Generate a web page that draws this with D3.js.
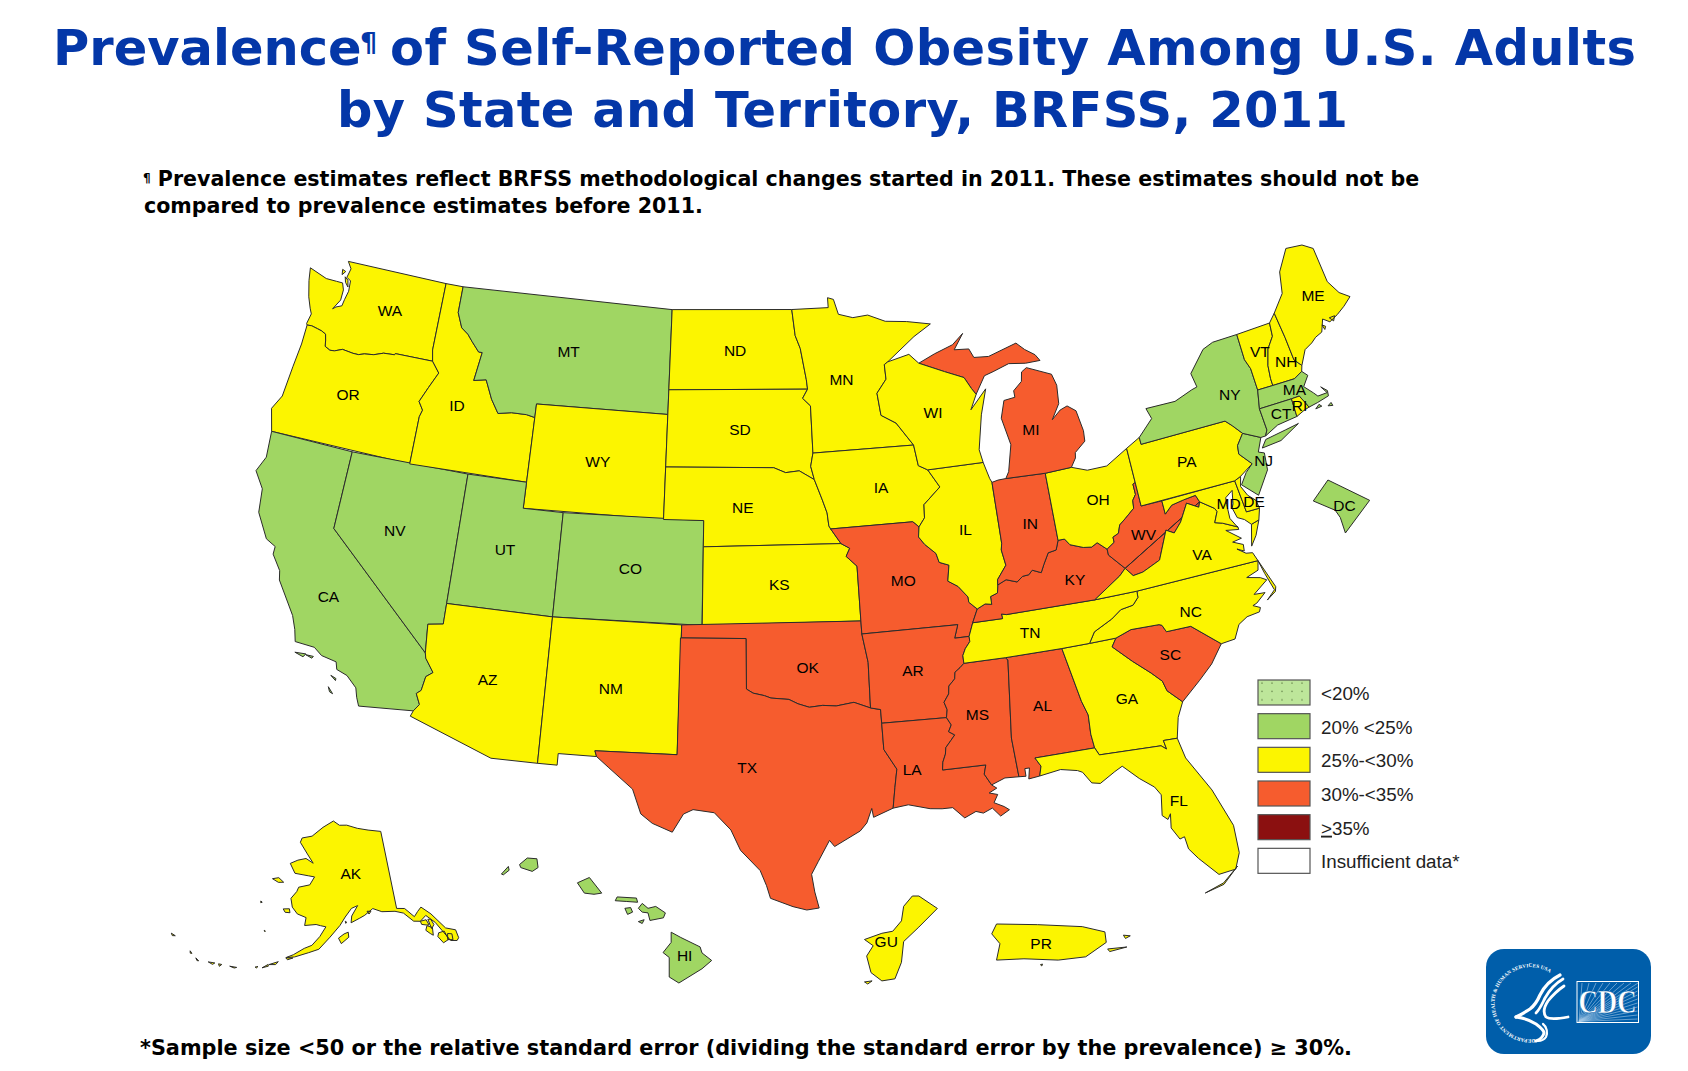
<!DOCTYPE html>
<html>
<head>
<meta charset="utf-8">
<script src="https://cdn.jsdelivr.net/npm/d3@7"></script>
<style>
  html, body { margin: 0; padding: 0; background: #fff; }
  svg { display: block; }
</style>
</head>
<body>
<div id="chart"></div>
<script>
const R = (a) => a.slice().reverse();

// obesity class for each state
const greenStates = ['MT', 'CA', 'NV', 'UT', 'CO', 'NY', 'MA', 'CT', 'NJ', 'DC', 'HI'];
const yellowStates = ['WA', 'OR', 'ID', 'WY', 'ND', 'SD', 'NE', 'KS', 'MN', 'IA', 'WI', 'IL', 'OH', 'PA', 'VA', 'NC', 'TN',
    'GA', 'FL', 'AZ', 'NM', 'VT', 'NH', 'ME', 'RI', 'MD', 'DE', 'AK', 'GU', 'PR'];
const orangeStates = ['TX', 'OK', 'MO', 'AR', 'LA', 'MS', 'AL', 'SC', 'KY', 'WV', 'IN', 'MI'];

const legendLabels = ['<20%', '20% <25%', '25%-<30%', '30%-<35%', '35%', 'Insufficient data*'];
const legendColors = ['url(#dots)', '#a0d663', '#fcf500', '#f65c2e', '#8b1010', '#ffffff'];

// shared borders, lon/lat
const columbia = [[-124,46.25],[-123.75,46.27],[-123.4,46.22],[-123.15,46.18],[-122.9,46.1],[-122.8,45.85],[-122.75,45.65],[-122.45,45.55],[-122.2,45.57],[-121.8,45.7],[-121.2,45.65],[-120.9,45.65],[-120.6,45.73],[-120.1,45.78],[-119.6,45.92],[-119,45.95],[-118.98,46],[-116.92,46]];
const snake = [[-116.92,46],[-116.47,45.6],[-116.85,45],[-117.2,44.4],[-116.93,44.1],[-117.03,43.83],[-117.03,42]];
const colorado = [[-114.63,35],[-114.57,34.8],[-114.14,34.3],[-114.43,34.1],[-114.53,33.55],[-114.72,33.4],[-114.5,33],[-114.72,32.72]];
const bitterroot = [[-116.05,49],[-116.05,48],[-115.7,47.45],[-115.3,47.25],[-115,47],[-114.55,46.65],[-114.35,46.65],[-114.55,45.55],[-113.9,45.65],[-113.8,45.5],[-113.45,44.95],[-113,44.45],[-112.3,44.55],[-111.5,44.55],[-111.05,44.48]];
const redNorth = [[-97.23,49],[-97.1,48],[-96.85,47.5],[-96.6,46.3],[-96.56,45.94]];
const sdMn = [[-96.56,45.94],[-96.85,45.6],[-96.45,45.3],[-96.45,43.5]];
const bigSioux = [[-96.45,43.5],[-96.6,43],[-96.45,42.49]];
const sdNe = [[-98.5,43],[-97.9,42.8],[-97.2,42.85],[-96.45,42.49]];
const iaNe = [[-96.45,42.49],[-96.1,41.7],[-95.9,41.2],[-95.85,40.7],[-95.77,40.58]];
const moNe = [[-95.77,40.58],[-95.31,40]];
const moKs = [[-95.31,40],[-94.9,39.8],[-95.1,39.5],[-94.61,39.1]];
const stCroix = [[-92.29,46.1],[-92.85,45.6],[-92.75,44.75],[-92,44.4],[-91.22,43.5]];
const missWi = [[-91.22,43.5],[-91.1,42.7],[-90.65,42.5]];
const missIa = [[-90.65,42.5],[-90.15,41.8],[-91.05,41.2],[-91.1,40.7],[-91.42,40.38]];
const missMo = [[-91.42,40.38],[-91.5,40],[-91.25,39.7],[-90.75,39.3],[-90.65,38.95],[-90.2,38.8],[-90.35,38.2],[-89.9,37.95],[-89.5,37.5],[-89.5,37.3],[-89.15,37]];
const missKy = [[-89.15,37],[-89.45,36.5]];
const missTn = [[-89.45,36.5],[-89.7,36]];
const missAr = [[-89.7,36],[-89.7,35.8],[-89.95,35.55],[-90.1,35.3],[-90.1,35]];
const missMs = [[-90.1,35],[-90.3,34.85],[-90.55,34.7],[-90.6,34.45],[-90.9,34.2],[-90.95,33.9],[-91.2,33.6],[-91.1,33.3],[-91.17,33]];
const missLa = [[-91.17,33],[-91,32.7],[-91.15,32.45],[-90.9,32.3],[-91.1,32.1],[-91.35,31.85],[-91.4,31.6],[-91.55,31.3],[-91.6,31]];
const redRiver = [[-100,34.56],[-99.7,34.4],[-99.2,34.3],[-98.9,34.2],[-98.1,34.13],[-97.7,33.95],[-97.2,33.8],[-96.6,33.85],[-96,33.8],[-95.2,33.9],[-94.48,33.64]];
const sabine = [[-94.04,32],[-93.55,31.2],[-93.7,30.5],[-93.85,29.7]];
const ohioIl = [[-89.15,37],[-88.75,37.15],[-88.45,37.1],[-88.45,37.4],[-88.1,37.5],[-88.03,37.8]];
const ohioIn = [[-88.03,37.8],[-87.6,37.95],[-87.1,37.8],[-86.8,37.98],[-86.5,38],[-86.3,38.15],[-85.9,38],[-85.7,38.3],[-85.4,38.7],[-85,38.75],[-84.82,39.1]];
const ohioKy = [[-84.82,39.1],[-84.5,39.1],[-84.3,38.85],[-83.7,38.65],[-83.3,38.6],[-83,38.72],[-82.6,38.4]];
const ohioWv = [[-82.6,38.4],[-82.2,38.6],[-82.2,38.8],[-81.9,38.9],[-81.75,39.2],[-81.4,39.4],[-80.9,39.7],[-80.85,40],[-80.65,40.2],[-80.65,40.6],[-80.52,40.64]];
const wabash = [[-87.53,39.35],[-87.6,39.1],[-87.5,38.5],[-88,38],[-88.03,37.8]];
const kyWv = [[-82.6,38.4],[-82.6,38.17],[-81.97,37.54]];
const kyVa = [[-81.97,37.54],[-82.3,37.3],[-83,36.95],[-83.68,36.6]];
const kyTn = [[-83.68,36.6],[-87.85,36.63],[-88.07,36.68],[-88.05,36.5],[-89.45,36.5]];
const vaTn = [[-81.68,36.59],[-83.68,36.6]];
const tnNc = [[-81.68,36.59],[-81.7,36.35],[-82,36.1],[-82.6,36.03],[-83.1,35.75],[-84,35.4],[-84.32,35]];
const wvVa = [[-81.97,37.54],[-81.68,37.2],[-81.2,37.25],[-80.3,37.55],[-79.65,38.6],[-79.3,38.42],[-78.87,38.76],[-78.35,39.4],[-77.83,39.13],[-77.72,39.32]];
const wvMd = [[-77.72,39.32],[-77.83,39.6],[-78.45,39.55],[-79.07,39.47],[-79.48,39.2],[-79.48,39.72]];
const potomac = [[-77.72,39.32],[-77.12,38.93],[-77.04,38.79],[-77.3,38.4],[-76.95,38.3],[-76.3,38]];
const savannah = [[-83.1,35],[-83.35,34.7],[-82.6,34],[-81.9,33.4],[-81.5,33],[-81.4,32.6],[-80.85,32.05]];
const ncSc = [[-78.55,33.86],[-79.67,34.8],[-80.8,34.82],[-80.93,35.1],[-81.05,35.15],[-82.35,35.2],[-83.1,35]];
const delaware = [[-74.7,41.36],[-75.13,40.97],[-75.2,40.65],[-74.72,40.15],[-75.45,39.82]];
const vtNh = [[-71.5,45.01],[-71.6,44.5],[-72.05,44.1],[-72.35,43.5],[-72.45,43],[-72.46,42.73]];
const nyVt = [[-73.35,45],[-73.4,44],[-73.25,43.6],[-73.27,42.75]];
const nhMe = [[-71.08,45.3],[-71,44.3],[-70.98,43.38],[-70.7,43.08]];

// each state is a list of rings, lon/lat
const stateRings = {
    WA: [[[-124.73,48.38],[-124.6,47.9],[-124.35,47.3],[-124.1,46.9],[-123.95,46.7],[-124.05,46.3],...columbia,[-117.04,46.42],[-117.04,49],[-122.76,49],[-122.5,48.75],[-122.6,48.4],[-122.35,48.3],[-122.3,47.9],[-122.4,47.55],[-122.45,47.3],[-122.75,47.2],[-122.9,47.1],[-122.6,47.5],[-122.6,47.9],[-122.75,48.15],[-123.1,48.15],[-123.7,48.15]],
        [[-122.75,48.6],[-122.95,48.65],[-122.9,48.45]],[[-122.7,48.4],[-122.5,48.3],[-122.4,48.05],[-122.6,48.2]]],
    OR: [[...R(columbia),[-124,45.5],[-124.1,44.6],[-124.2,43.4],[-124.55,42.84],[-124.21,42],...R(snake)].reverse()],
    CA: [[[-124.21,42],[-120,42],[-120,39],...colorado,[-117.12,32.53],[-117.28,32.85],[-117.4,33.2],[-117.9,33.6],[-118.4,33.75],[-118.5,34.03],[-119.2,34.15],[-119.6,34.4],[-120.5,34.45],[-120.65,34.9],[-120.9,35.4],[-121.9,36.6],[-122,36.95],[-122.5,37.5],[-122.5,37.8],[-123,38],[-123.7,38.9],[-123.85,39.8],[-124.4,40.4],[-124.1,41]],
        [[-120.4,34.05],[-119.9,34.08],[-120,33.95]],[[-119.9,34.05],[-119.55,34.05],[-119.6,33.97]],[[-118.6,33.48],[-118.35,33.4],[-118.35,33.32]],[[-118.6,33.03],[-118.35,32.8],[-118.5,32.85]]],
    NV: [[[-120,42],[-114.04,42],[-114.04,36.2],[-114.74,36.1],[-114.63,35],[-120,39]]],
    ID: [[[-117.04,49],...bitterroot,[-111.05,42],[-117.03,42],...R(snake),[-117.04,46.42]]],
    MT: [[...bitterroot,[-111.05,45],[-104.05,45],[-104.05,49]]],
    WY: [[[-111.05,45],[-104.05,45],[-104.05,41],[-111.05,41]]],
    UT: [[[-114.04,42],[-111.05,42],[-111.05,41],[-109.05,41],[-109.05,37],[-114.04,37]]],
    CO: [[[-109.05,41],[-102.05,41],[-102.05,37],[-109.05,37]]],
    AZ: [[[-114.04,37],[-109.05,37],[-109.05,31.33],[-111.07,31.33],[-114.81,32.5],...R(colorado),[-114.74,36.1],[-114.04,36.2]]],
    NM: [[[-109.05,37],[-103,37],[-103.04,32],[-106.62,32],[-106.53,31.78],[-108.2,31.78],[-108.2,31.33],[-109.05,31.33]]],
    ND: [[[-104.05,49],...redNorth,[-104.05,45.94]]],
    SD: [[[-104.05,45.94],...sdMn,...bigSioux,...R(sdNe),[-104.05,43]]],
    NE: [[[-104.05,43],...sdNe,...iaNe,...moNe,[-102.05,40],[-102.05,41],[-104.05,41]]],
    KS: [[[-102.05,40],...moKs,[-94.62,37],[-102.04,37]]],
    OK: [[[-103,37],[-94.62,37],[-94.62,36.5],[-94.43,35.4],...R(redRiver),[-100,36.5],[-103,36.5]]],
    TX: [[[-103.04,36.5],[-100,36.5],...redRiver,[-94.04,33.55],[-94.04,33.02],...sabine,[-94.7,29.4],[-94.75,29.75],[-95,29.2],[-95.3,28.9],[-96.4,28.35],[-96.6,28.6],[-97.1,27.8],[-97.4,27.3],[-97.3,26.6],[-97.15,25.96],[-97.65,25.9],[-98.2,26.05],[-99.1,26.4],[-99.25,26.9],[-99.5,27.5],[-100.3,28.3],[-100.7,29.1],[-101.4,29.77],[-102.3,29.88],[-102.7,29.7],[-103.15,28.98],[-104,29.3],[-104.5,29.65],[-104.9,30.6],[-106,31.4],[-106.53,31.78],[-106.62,32],[-103.04,32]]],
    MN: [[...redNorth,...sdMn,[-91.22,43.5],...R(stCroix),[-92.3,46.66],[-92.1,46.75],[-90.5,47.6],[-89.5,48],[-90.8,48.2],[-92,48.3],[-92.95,48.6],[-93.8,48.55],[-94.6,48.72],[-94.82,49.3],[-95.15,49.38],[-95.15,49]]],
    IA: [[[-96.45,43.5],[-91.22,43.5],...missWi,...missIa,[-91.7,40.6],...R(iaNe),...R(bigSioux)]],
    MO: [[[-95.77,40.58],[-91.7,40.6],...missMo,...missKy,...missTn,[-90.37,36],[-90.15,36.5],[-94.62,36.5],[-94.62,37],...R(moKs),...R(moNe)]],
    AR: [[[-94.62,36.5],[-90.15,36.5],[-90.37,36],...missAr,...missMs,[-94.04,33.02],[-94.04,33.55],[-94.48,33.64],[-94.43,35.4]]],
    LA: [[[-94.04,33.02],...missLa,[-89.73,31],[-89.85,30.65],[-89.6,30.2],[-89.4,30.05],[-89.75,29.9],[-89.4,29.8],[-89.6,29.5],[-89.2,29.3],[-89,29.15],[-89.4,28.95],[-89.7,29.3],[-90.1,29.15],[-90.4,29.25],[-90.9,29.05],[-91.35,29.5],[-91.8,29.5],[-92.3,29.55],[-93.2,29.78],...R(sabine)]],
    MS: [[[-90.1,35],[-88.2,35],[-88.1,34.9],[-88.47,31.9],[-88.4,30.37],[-89,30.4],[-89.6,30.2],[-89.85,30.65],[-89.73,31],...R(missLa),...R(missMs)]],
    AL: [[[-88.2,35],[-85.6,35],[-85.18,32.87],[-85,32.3],[-85.05,31.55],[-85,31],[-87.6,31],[-87.4,30.65],[-87.52,30.28],[-88,30.23],[-87.9,30.65],[-88.1,30.65],[-88.1,30.35],[-88.4,30.37],[-88.47,31.9],[-88.1,34.9]]],
    GA: [[[-85.6,35],[-84.32,35],...savannah,[-81.2,31.5],[-81.45,30.72],[-82.05,30.75],[-82,30.4],[-82.2,30.57],[-84.86,30.7],[-85,31],[-85.05,31.55],[-85,32.3],[-85.18,32.87]]],
    SC: [[...savannah,[-79.9,32.7],[-79.2,33.2],...ncSc.slice(0,-1)]],
    NC: [[[-84.32,35],...R(tnNc),[-75.87,36.55],[-76,36.2],[-76.6,36.05],[-76,35.9],[-75.75,35.75],[-76.5,35.35],[-76,35.3],[-76.5,35],[-76.7,34.95],[-76.4,34.8],[-76.5,34.65],[-77.1,34.6],[-77.55,34.4],[-77.9,33.9],...ncSc],
        [[-75.87,36.55],[-75.45,35.4],[-75.53,35.23],[-76,35],[-75.55,35.3],[-75.75,36]]],
    TN: [[...kyTn,...missTn,...missAr,[-88.2,35],[-85.6,35],[-84.32,35],...R(tnNc),...vaTn]],
    KY: [[...ohioIl,...ohioIn,...ohioKy,...kyWv,...kyVa,...kyTn,...R(missKy)]],
    IL: [[[-90.65,42.5],[-87.8,42.5],[-87.6,41.85],[-87.52,41.7],...wabash,...R(ohioIl),...R(missMo),...R(missIa)]],
    IN: [[[-87.52,41.7],[-87.2,41.75],[-86.8,41.76],[-84.8,41.7],[-84.82,39.1],...R(ohioIn),...R(wabash)]],
    OH: [[[-84.8,41.7],[-83.45,41.73],[-82.7,41.5],[-81.7,41.5],[-80.52,41.98],...R(ohioWv),...R(ohioKy)]],
    MI: [[[-86.8,41.76],[-84.8,41.7],[-83.45,41.73],[-83.15,42.05],[-83.1,42.25],[-82.5,42.6],[-82.45,43],[-82.6,43.8],[-83,44.05],[-83.4,43.95],[-83.9,43.65],[-83.4,44.2],[-83.3,44.9],[-83.45,45.35],[-84.7,45.78],[-85,45.65],[-85.1,45.3],[-85.6,45],[-85.6,44.75],[-86.2,44.7],[-86.5,44.05],[-86.25,43],[-86.6,42]],
        [[-90.42,46.57],[-89.5,46.85],[-88.45,47.1],[-87.8,47.47],[-88.4,46.9],[-87.6,46.85],[-87.4,46.5],[-86.6,46.45],[-85,46.77],[-84.6,46.47],[-84.1,46.2],[-83.9,45.95],[-84.7,45.95],[-85.6,46.05],[-86.5,45.85],[-87,45.75],[-87.6,45.1],[-87.8,45.35],[-88.1,45.8],[-89.1,46.13]]],
    WI: [[[-92.1,46.75],[-90.9,46.95],[-90.42,46.57],[-89.1,46.13],[-88.1,45.8],[-87.8,45.35],[-87.6,45.1],[-88,44.55],[-87.05,45.25],[-87.5,44.3],[-87.9,43],[-87.8,42.5],[-90.65,42.5],...R(missWi),...R(stCroix),[-92.3,46.66]]],
    WV: [[...ohioWv,[-80.52,39.72],...R(wvMd),...wvVa,...R(kyWv)]],
    VA: [[[-83.68,36.6],...R(vaTn),[-75.87,36.55],[-76,36.9],[-76.3,36.95],[-76.65,37.2],[-76.35,37.05],[-76.3,37.3],[-76.75,37.5],[-76.3,37.55],[-76.9,38],[-76.3,37.9],...R(potomac),...R(wvVa),...kyVa],
        [[-75.95,37.15],[-75.6,37.5],[-75.25,38.03],[-75.65,37.95]]],
    MD: [[[-79.48,39.72],[-75.79,39.72],[-75.7,38.46],[-75.05,38.45],[-75.25,38.03],[-75.65,37.95],[-75.9,38.2],[-76.2,38.35],[-76.3,38.75],[-76.2,38.9],[-76.05,39.4],[-76.45,39.2],[-76.5,38.95],[-76.55,38.4],[-76.35,38.05],...R(potomac),...wvMd]],
    DE: [[[-75.79,39.72],[-75.45,39.82],[-75.6,39.45],[-75.4,39.05],[-75.1,38.78],[-75.05,38.45],[-75.7,38.46]]],
    PA: [[[-80.52,41.98],[-79.76,42.27],[-79.76,42],[-75.35,42],[-75.07,41.75],...delaware,[-75.79,39.72],[-80.52,39.72]]],
    NJ: [[...delaware.slice(0,-1),[-75.13,39.9],[-75.53,39.5],[-74.9,38.93],[-74.1,39.75],[-73.98,40.4],[-74.25,40.5],[-73.9,41]]],
    NY: [[[-79.76,42.27],[-78.9,42.85],[-79.05,43.27],[-77.5,43.25],[-76.5,43.5],[-76.2,43.55],[-76.3,44.1],[-75.3,44.85],[-74.7,45],...nyVt,[-73.5,42.05],[-73.49,41.2],[-73.65,41],[-73.9,41],[-74.7,41.36],[-75.07,41.75],[-75.35,42],[-79.76,42]],
        [[-74,40.6],[-73,40.65],[-71.9,41.05],[-72.6,40.98],[-73.7,40.87]]],
    VT: [[...nyVt.slice(0,1),...vtNh,...R(nyVt).slice(0,-1)]],
    NH: [[...vtNh,[-71.3,42.7],[-70.82,42.87],...R(nhMe)]],
    ME: [[...nhMe,[-70.25,43.6],[-69.8,43.75],[-69.5,43.9],[-69.1,44],[-68.8,44.45],[-68.5,44.25],[-68,44.4],[-67.5,44.6],[-67,44.85],[-67.45,45.15],[-67.8,45.7],[-67.8,47.07],[-68.3,47.35],[-69.2,47.45],[-70,46.7],[-70.3,45.9]],
        [[-68.45,44.4],[-68.15,44.4],[-68.3,44.23]],[[-68.95,44.25],[-68.8,44.15],[-68.9,44.05]]],
    MA: [[[-73.5,42.05],[-73.27,42.75],[-72.46,42.73],[-71.3,42.7],[-70.82,42.87],[-70.6,42.65],[-71,42.3],[-70.65,41.95],[-70.5,41.78],[-70,41.78],[-70.2,42.07],[-69.95,41.85],[-70,41.65],[-70.65,41.55],[-71.12,41.5],[-71.2,41.67],[-71.38,42.02],[-71.8,42.02]],
        [[-70.83,41.35],[-70.6,41.47],[-70.5,41.37]],[[-70.2,41.3],[-70,41.38],[-69.97,41.25]]],
    CT: [[[-73.5,42.05],[-71.8,42.02],[-71.85,41.32],[-72.9,41.25],[-73.65,41],[-73.49,41.2]]],
    RI: [[[-71.8,42.02],[-71.38,42.02],[-71.2,41.67],[-71.12,41.5],[-71.4,41.45],[-71.85,41.32]]],
    FL: [[[-87.6,31],[-85,31],[-84.86,30.7],[-82.2,30.57],[-82,30.4],[-82.05,30.75],[-81.45,30.72],[-81.3,29.9],[-80.55,28.45],[-80.05,26.9],[-80.1,25.8],[-80.4,25.2],[-81.1,25.15],[-81.75,25.95],[-82.05,26.4],[-82.1,26.9],[-82.3,26.85],[-82.55,27.35],[-82.45,27.9],[-82.6,27.7],[-82.8,27.9],[-82.65,28.7],[-82.85,29.05],[-83.4,29.5],[-84,30.1],[-84.35,29.95],[-85.05,29.6],[-85.4,29.68],[-85.7,30.15],[-85.9,30.25],[-86.6,30.4],[-87.52,30.28],[-87.4,30.65]],
        [[-80.3,25.3],[-81,24.72],[-81.8,24.55],[-81,24.78]]],
    AK: [[[-141,69.65],[-141,60.3],[-139.2,60.1],[-137.5,58.9],[-136.5,59.4],[-135.5,59.8],[-133.8,58.7],[-131.8,56.6],[-130,56],[-130,55],[-130.5,54.75],[-131.7,55],[-132.5,56.2],[-133.5,57.6],[-135,58.7],[-136.5,58.2],[-137.9,58.4],[-139.7,59.6],[-141.5,60],[-144.5,60.2],[-146.5,60.7],[-148.5,60],[-149.7,59.7],[-151.7,59.2],[-151.5,60],[-150,61.2],[-151.5,60.9],[-153,59.9],[-154.2,58.9],[-156.3,57.5],[-158.5,56],[-160.5,55.5],[-163.2,54.8],[-164.8,54.6],[-163.5,55.05],[-161.5,55.95],[-160,56.4],[-158.5,57.5],[-157.3,58.7],[-158.5,58.8],[-159.5,58.9],[-162,58.65],[-161.9,59.6],[-164,59.9],[-165.4,60.6],[-166.1,61.6],[-165,62.5],[-164.7,63.05],[-162,63.5],[-161,64.5],[-162.7,64.55],[-166.3,64.6],[-168.1,65.65],[-166.2,66.2],[-164,66.55],[-161.8,66.1],[-163.8,67.1],[-166.5,68.35],[-166.2,68.9],[-163.2,69.3],[-160,70.5],[-156.6,71.35],[-154.5,70.85],[-152,70.85],[-148.5,70.4],[-145,70.05]],
        [[-154.5,57.4],[-153.9,56.75],[-152.3,57.5],[-152.4,58.1],[-153.3,57.9]],
        [[-171.7,63.4],[-170.2,63.7],[-168.7,63.3],[-170,63.15]],
        [[-167.4,60.2],[-166,60.35],[-165.7,59.9],[-166.8,59.85]],
        [[-134.7,56.2],[-134.4,57.1],[-135.4,57.5],[-135.9,57],[-135.2,56.5]],
        [[-135.5,57.6],[-134.9,57.5],[-135.2,58.2],[-136.5,58.2],[-136.4,57.8]],
        [[-134.6,57],[-133.9,57.4],[-134.2,58.1],[-134.8,58.2],[-134.7,57.5]],
        [[-133.2,55],[-132,55.2],[-132.3,56.3],[-133.5,56.3],[-133.9,55.9]],
        [[-132.2,55.2],[-131.2,55],[-131,55.7],[-131.8,55.9]],
        [[-153,59.4],[-152.7,59.3],[-152.9,59.15]],
        [[-147.9,60.45],[-147,60.4],[-147.5,60.1]],
        [[-164.9,54.55],[-163.5,54.65],[-164.5,54.35]],
        [[-167.85,53.4],[-166.2,53.95],[-166.6,53.55]],
        [[-169,52.85],[-168,53.4],[-167.9,53.2]],
        [[-170.3,52.75],[-169.8,52.9],[-170,52.7]],
        [[-174.9,52.05],[-173.6,52.15],[-174,52]],
        [[-177,51.9],[-176.4,51.95],[-176.7,51.65]],
        [[-178.9,51.7],[-177.7,51.85],[-178,51.6]],
        [[178.7,51.6],[179.4,51.4],[179.1,51.35]],
        [[177.2,52.1],[177.7,51.9],[177.4,51.85]],
        [[172.5,53],[173.4,52.95],[172.9,52.8]],
        [[-170.4,57.25],[-170.1,57.2],[-170.2,57.1]],
        [[-172.9,60.5],[-172.5,60.4],[-172.8,60.3]]],
    HI: [[[-159.78,22.05],[-159.58,22.22],[-159.33,22.2],[-159.3,21.97],[-159.45,21.87],[-159.75,21.97]],
        [[-160.25,21.8],[-160.07,22],[-160.05,21.9],[-160.2,21.78]],
        [[-158.28,21.57],[-157.97,21.71],[-157.65,21.3],[-157.85,21.27],[-158.1,21.3]],
        [[-157.3,21.1],[-157.25,21.2],[-156.75,21.17],[-156.72,21.06],[-157,21.08]],
        [[-157.05,20.9],[-156.9,20.92],[-156.85,20.8],[-156.98,20.74]],
        [[-156.7,20.9],[-156.6,21.03],[-156.45,20.9],[-156.25,20.95],[-156,20.78],[-156.05,20.65],[-156.4,20.58],[-156.45,20.78],[-156.6,20.8]],
        [[-156.7,20.55],[-156.55,20.6],[-156.6,20.5]],
        [[-155.85,20.27],[-155.6,20.13],[-155.1,19.88],[-155.05,19.72],[-154.8,19.52],[-155.05,19.3],[-155.65,18.92],[-155.9,19.08],[-155.9,19.6],[-156.06,19.73],[-155.85,20]]],
    GU: [[[144.87,13.65],[144.955,13.59],[144.87,13.5],[144.8,13.43],[144.79,13.33],[144.76,13.25],[144.7,13.24],[144.65,13.28],[144.63,13.36],[144.66,13.41],[144.62,13.44],[144.7,13.47],[144.75,13.48],[144.79,13.53],[144.8,13.6],[144.84,13.65]],
        [[144.655,13.24],[144.635,13.225],[144.62,13.235]]],
    PR: [[[-67.2,18.5],[-66.6,18.49],[-65.95,18.46],[-65.62,18.38],[-65.6,18.22],[-65.9,18],[-66.3,17.95],[-66.8,17.97],[-67.2,17.95],[-67.15,18.2],[-67.27,18.35]],
        [[-65.58,18.12],[-65.3,18.15],[-65.55,18.08]],
        [[-65.35,18.33],[-65.25,18.32],[-65.32,18.28]],
        [[-66.56,17.88],[-66.53,17.89],[-66.54,17.86]]],
    DC: [[[-77.12,38.93],[-77.04,38.995],[-76.91,38.89],[-77.04,38.79],[-77.04,38.85],[-77.05,38.88]]]
};

// label anchors where the centroid is not where the reference puts it
const labelAnchors = {
    MI: [-85.1, 43.4], ID: [-115.2, 44.5], FL: [-82, 28.3], LA: [-92.9, 31.1], MD: [-76.4, 38.95], DE: [-75.2, 38.75],
    RI: [-71.55, 41.65], CT: [-72.55, 41.6], MA: [-71.5, 42.3], NH: [-71.4, 43.4], VT: [-72.5, 44.1], NJ: [-74.15, 40.1],
    VA: [-78.3, 37.35], WV: [-80.75, 38.62], KY: [-84.4, 37.5], NC: [-79.5, 35.35], TN: [-86.9, 35.8], ME: [-68.8, 45.4],
    CA: [-119.5, 36.4], MS: [-89.8, 32.95], AL: [-86.9, 32.95],
    WA: [-119.8, 47.55], OR: [-120.9, 44.05], NV: [-117.1, 39.4], NE: [-100.1, 41.5], TX: [-100, 31.5], NY: [-74.7, 42.9],
    GA: [-83.2, 32.6], IA: [-93.1, 42], MN: [-94.7, 46.2], OK: [-97.2, 35.3], IN: [-86, 39.9], OH: [-82.5, 40.3],
    HI: [-155.5, 19.65], AK: [-151.3, 65], GU: [144.72, 13.43], PR: [-66.55, 18.2], DC: [-77.01, 38.89]
};

const width = 1688, height = 1071;
const mapBox = [[251, 245], [1355, 910]];
const insetBoxes = {
    AK: [[172, 821], [458, 968]],
    HI: [[500, 858], [713, 983]],
    GU: [[865, 896], [937, 984]],
    PR: [[991, 924], [1131, 966]],
    DC: [[1313, 480], [1371, 533]]
};
// the reference map is a little wider than a true-shape projection: [center x, factor]
const xStretch = {
    main: [803, 1.026],
    AK: [315, 1.04],
    HI: [606, 1.088],
    GU: [902, 1.08],
    PR: [1061, 1.1],
    DC: [1344, 1.26]
};

// d3.geo wants rings wound the small way round
const feature = (id) => {
    const polys = stateRings[id].map((ring) => {
        const poly = {type: 'Polygon', coordinates: [[...ring, ring[0]]]};
        if (d3.geoArea(poly) > 2 * Math.PI) poly.coordinates[0].reverse();
        return poly.coordinates;
    });
    return {type: 'Feature', id, geometry: {type: 'MultiPolygon', coordinates: polys}};
};

const features = Object.keys(stateRings).map(feature);
const lower48 = {type: 'FeatureCollection', features: features.filter((f) => !insetBoxes[f.id])};

const mainProj = d3.geoConicEqualArea().rotate([100.7, 0]).parallels([37, 50]).fitExtent(mapBox, lower48);
const projections = {
    AK: d3.geoConicEqualArea().rotate([154, 0]).center([-2, 58.5]).parallels([55, 65]),
    HI: d3.geoMercator(),
    GU: d3.geoMercator(),
    PR: d3.geoMercator(),
    DC: d3.geoConicEqualArea().rotate([98.5, 0]).parallels([37, 50])
};
Object.keys(projections).forEach((id) => projections[id].fitExtent(insetBoxes[id], features.find((f) => f.id === id)));
const projFor = (id) => projections[id] || mainProj;
const stretchFor = (id) => xStretch[id] || xStretch.main;

const pathFor = (id) => {
    const [cx, k] = stretchFor(id);
    const stretch = d3.geoTransform({
        point(x, y) { this.stream.point(cx + (x - cx) * k, y); }
    });
    return d3.geoPath({stream: (s) => projFor(id).stream(stretch.stream(s))});
};

const colorOf = (id) => greenStates.includes(id) ? legendColors[1]
    : yellowStates.includes(id) ? legendColors[2]
    : orangeStates.includes(id) ? legendColors[3] : legendColors[5];

const svg = d3.select('#chart').append('svg')
    .attr('width', width)
    .attr('height', height)
    .attr('viewBox', `0 0 ${width} ${height}`);

const defs = svg.append('defs');
const dots = defs.append('pattern').attr('id', 'dots').attr('width', 10).attr('height', 8.4).attr('patternUnits', 'userSpaceOnUse');
dots.append('rect').attr('width', 10).attr('height', 8.4).attr('fill', '#bde69a');
dots.append('circle').attr('cx', 4).attr('cy', 3).attr('r', 0.7).attr('fill', '#4d6b35');

// title
const titleFont = '"DejaVu Sans", Verdana, sans-serif';
const title = svg.append('g')
    .attr('font-family', titleFont)
    .attr('font-weight', 'bold')
    .attr('fill', '#0437a8');
const line1 = title.append('text').attr('y', 65).attr('font-size', 49.5);
line1.append('tspan').attr('x', 53).text('Prevalence');
line1.append('tspan').attr('x', 360).attr('font-size', 27).attr('dy', -13).text('¶');
title.append('text').attr('x', 390).attr('y', 65).attr('font-size', 49.5).attr('textLength', 1246)
    .text('of Self-Reported Obesity Among U.S. Adults');
title.append('text').attr('x', 337).attr('y', 127).attr('font-size', 49.5).attr('textLength', 1011)
    .text('by State and Territory, BRFSS, 2011');

const notes = svg.append('g')
    .attr('font-family', titleFont)
    .attr('font-weight', 'bold')
    .attr('fill', '#000')
    .attr('font-size', 20.6);
const note1 = notes.append('text').attr('x', 143).attr('y', 186);
note1.append('tspan').attr('font-size', 12).attr('dy', -4).text('¶');
note1.append('tspan').attr('dy', 4).text(' Prevalence estimates reflect BRFSS methodological changes started in 2011. These estimates should not be');
notes.append('text').attr('x', 144).attr('y', 213).text('compared to prevalence estimates before 2011.');
notes.append('text').attr('x', 140).attr('y', 1055).attr('font-size', 20.8)
    .text('*Sample size <50 or the relative standard error (dividing the standard error by the prevalence) ≥ 30%.');

// states
const map = svg.append('g');
map.selectAll('path')
    .data(features)
    .join('path')
    .attr('d', (d) => pathFor(d.id)(d))
    .attr('fill', (d) => colorOf(d.id))
    .attr('stroke', '#2b2b2b')
    .attr('stroke-width', 1)
    .attr('stroke-linejoin', 'round');

const labelPos = (d) => {
    if (!labelAnchors[d.id]) return pathFor(d.id).centroid(d);
    const [cx, k] = stretchFor(d.id);
    const [x, y] = projFor(d.id)(labelAnchors[d.id]);
    return [cx + (x - cx) * k, y];
};
map.selectAll('text')
    .data(features)
    .join('text')
    .attr('x', (d) => labelPos(d)[0])
    .attr('y', (d) => labelPos(d)[1] + 5)
    .attr('text-anchor', 'middle')
    .attr('font-family', '"Liberation Sans", Arial, sans-serif')
    .attr('font-size', 15.5)
    .attr('fill', '#000')
    .text((d) => d.id);

// legend
const legendY = d3.scaleBand().domain(legendLabels).range([680, 882]);
const legend = svg.append('g').attr('font-family', '"Liberation Sans", Arial, sans-serif').attr('font-size', 18.8).attr('fill', '#222');
const legendRows = legend.selectAll('g').data(legendLabels).join('g')
    .attr('transform', (d) => `translate(1258, ${legendY(d)})`);
legendRows.append('rect')
    .attr('width', 52).attr('height', 25)
    .attr('fill', (d, i) => legendColors[i])
    .attr('stroke', '#555')
    .attr('stroke-width', 1.2);
legendRows.append('text').attr('x', 63).attr('y', 20).text((d) => d);
legendRows.filter((d) => d === '35%').select('text').text(null)
    .call((t) => {
        t.append('tspan').attr('text-decoration', 'underline').text('>');
        t.append('tspan').text('35%');
    });

// CDC / HHS badge
const logo = svg.append('g').attr('transform', 'translate(1486, 949)');
logo.append('rect').attr('width', 165).attr('height', 105).attr('rx', 18).attr('fill', '#005eaa');
defs.append('path').attr('id', 'ring').attr('d', 'M 49 90 A 36 36 0 1 1 72 31');
logo.append('text').attr('font-family', '"Liberation Serif", serif').attr('font-size', 5.2).attr('font-weight', 'bold').attr('fill', '#fff').attr('letter-spacing', 0.1)
    .append('textPath').attr('href', '#ring').text('DEPARTMENT OF HEALTH & HUMAN SERVICES USA');
const eagle = logo.append('g').attr('fill', 'none').attr('stroke', '#fff').attr('stroke-linecap', 'round').attr('stroke-linejoin', 'round');
[
    ['M 74 26 C 66 30 58 38 54 46 C 51 53 48 57 44 60 C 38 64 34 66 30 68', 3.2],
    ['M 77 30 C 70 34 63 42 59 49 C 56 55 54 60 50 64', 2.8],
    ['M 78 37 C 72 41 66 47 62 52 C 58 58 57 64 60 68 C 64 71 72 70 82 68', 2.8],
    ['M 30 68 C 38 69 44 71 50 75 C 54 78 58 81 58 84 C 57 88 53 91 50 92', 3],
    ['M 57 75 C 61 78 62 84 60 88 C 58 91 55 92 52 92', 2.2]
].forEach(([d, w]) => eagle.append('path').attr('d', d).attr('stroke-width', w));
logo.append('rect').attr('x', 91).attr('y', 32.5).attr('width', 61.5).attr('height', 41).attr('fill', 'none').attr('stroke', '#fff').attr('stroke-width', 1);
const rays = logo.append('g').attr('stroke', '#a9cbe8').attr('stroke-width', 0.6);
d3.range(9).forEach((i) => {
    rays.append('line').attr('x1', 93).attr('y1', 72.5).attr('x2', 96 + i * 7).attr('y2', 34);
    rays.append('line').attr('x1', 93).attr('y1', 72.5).attr('x2', 151.5).attr('y2', 38 + i * 4);
});
logo.append('text').attr('x', 121.5).attr('y', 64).attr('text-anchor', 'middle')
    .attr('font-family', '"Liberation Serif", serif').attr('font-weight', 'bold').attr('font-size', 33)
    .attr('textLength', 58).attr('lengthAdjust', 'spacingAndGlyphs')
    .attr('fill', '#fff').attr('stroke', '#005eaa').attr('stroke-width', 0.5).text('CDC');
</script>
</body>
</html>
